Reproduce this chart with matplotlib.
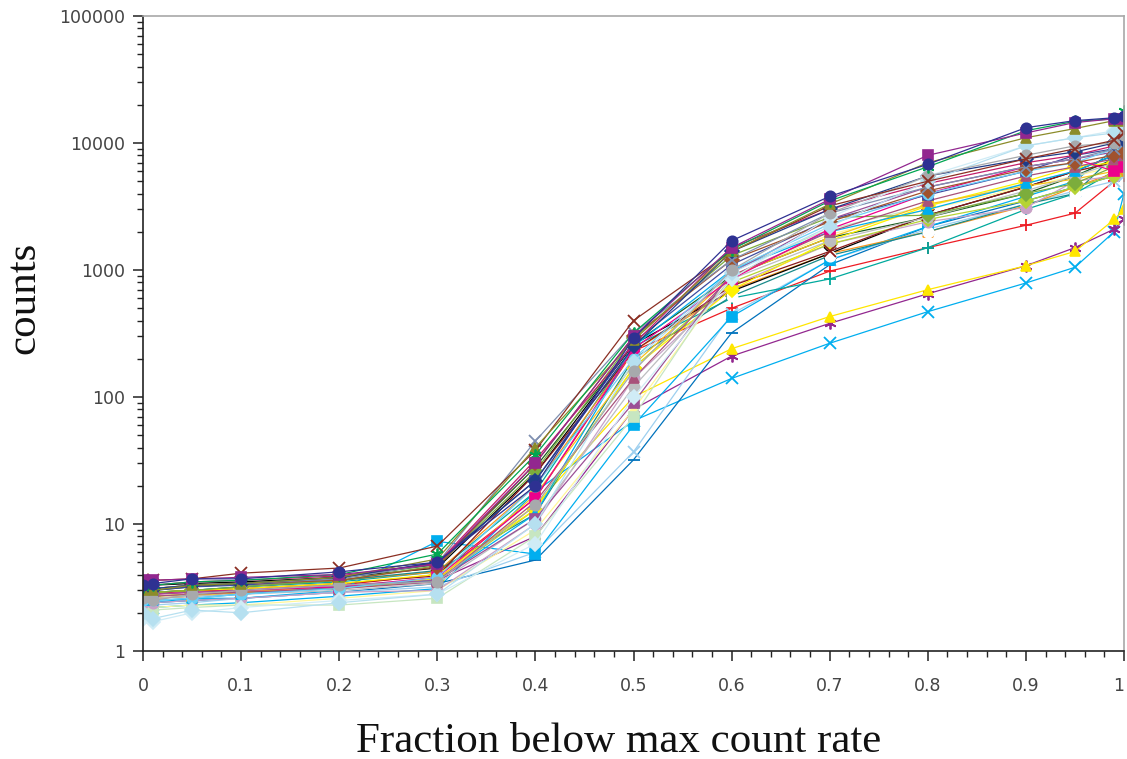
import matplotlib
matplotlib.use("Agg")
import matplotlib.pyplot as plt
from matplotlib.ticker import LogLocator, FixedLocator, NullFormatter

# ---------------- data ----------------
fraction = [0, 0.01, 0.05, 0.1, 0.2, 0.3, 0.4, 0.5, 0.6, 0.7, 0.8, 0.9, 0.95, 0.99, 1.0]

x_tick_labels = ["0", "0.1", "0.2", "0.3", "0.4", "0.5", "0.6", "0.7", "0.8", "0.9", "1"]
y_tick_labels = ["1", "10", "100", "1000", "10000", "100000"]

# lower-lying series (drawn first)
low_series = [
    [2.2, 2.2, 2.3, 2.4, 2.7, 3.1, 18, 65, 140, 265, 470, 790, 1050, 2000, 4000],
    [2.6, 2.6, 2.7, 2.9, 3.2, 3.6, 8, 80, 210, 380, 650, 1080, 1500, 2100, 2500],
    [2.7, 2.7, 2.8, 2.9, 3.2, 3.7, 14, 100, 240, 430, 700, 1080, 1400, 2500, 3000],
    [2.8, 2.8, 3.0, 3.0, 3.3, 4.0, 16, 230, 500, 980, 1500, 2250, 2800, 5000, 5500],
    [2.4, 2.4, 2.5, 2.6, 2.9, 3.4, 5.2, 32, 320, 1100, 2200, 3500, 4500, 5500, 6000],
    [2.3, 2.3, 2.4, 2.6, 2.9, 3.2, 6, 37, 450, 1200, 2100, 3300, 4200, 5000, 5500],
    [2.4, 2.4, 2.6, 2.6, 3.0, 7.3, 5.8, 60, 430, 1200, 2200, 3800, 5000, 9000, 11000],
    [2.9, 2.9, 3.0, 3.2, 3.5, 4.2, 18, 250, 600, 850, 1500, 3000, 4000, 6000, 7000],
    [2.2, 2.2, 2.3, 2.3, 2.6, 3.0, 9, 80, 900, 1900, 3000, 4500, 5500, 6500, 7500],
    [2.1, 2.1, 2.2, 2.3, 2.3, 2.6, 8, 70, 1000, 2100, 3200, 4800, 6000, 7000, 7500],
]

# middle series
mid_series = [
    [3.2, 3.1, 3.3, 3.3, 3.6, 4.2, 20, 230, 700, 1350, 2000, 3200, 4500, 5800, 6000],
    [3.2, 3.3, 3.4, 3.5, 3.8, 4.5, 25, 260, 680, 1350, 2700, 4500, 6000, 8000, 8500],
    [2.9, 2.9, 3.0, 3.2, 3.6, 4.3, 12, 200, 620, 1300, 2000, 3300, 4000, 8000, 8000],
    [2.4, 2.4, 2.5, 2.6, 2.9, 3.0, 10, 140, 750, 1600, 2400, 3100, 5000, 5500, 7000],
    [3.0, 3.0, 3.2, 3.4, 3.8, 4.8, 28, 260, 900, 1800, 2600, 4000, 5500, 7500, 8000],
    [2.7, 2.7, 2.8, 2.9, 3.1, 3.6, 13, 170, 800, 1600, 2500, 3500, 4500, 5500, 6500],
    [2.8, 2.9, 3.0, 3.1, 3.4, 3.9, 25, 230, 750, 1400, 2700, 4500, 6000, 7000, 8500],
    [2.9, 2.9, 3.0, 3.1, 3.4, 4.0, 13, 170, 700, 1700, 3200, 5000, 6500, 7000, 8000],
    [2.6, 2.6, 2.7, 2.9, 3.2, 3.6, 17, 180, 900, 1800, 3300, 4600, 5200, 6000, 7000],
    [2.6, 2.6, 2.7, 2.8, 3.0, 3.4, 11, 120, 850, 1700, 2600, 4200, 5500, 7000, 7500],
    [2.9, 2.9, 3.0, 3.2, 3.6, 4.7, 26, 290, 1300, 2600, 2700, 4000, 4800, 6500, 7000],
    [2.5, 2.5, 2.6, 2.8, 3.2, 3.6, 12, 250, 1000, 2000, 3000, 4800, 6000, 8000, 10000],
    [2.7, 2.7, 2.8, 2.9, 3.1, 3.5, 15, 140, 900, 2000, 3500, 5500, 6500, 7500, 8000],
    [2.8, 2.8, 2.9, 3.0, 3.2, 3.8, 16, 240, 850, 2100, 4000, 6500, 7500, 6000, 6500],
    [3.0, 3.0, 3.2, 3.3, 3.7, 5.0, 22, 270, 1100, 2500, 3900, 6000, 8000, 9000, 9500],
    [2.8, 2.8, 2.9, 3.0, 3.3, 3.6, 11, 90, 950, 2500, 4500, 6500, 7500, 8500, 9000],
    [2.5, 2.5, 2.6, 2.8, 3.1, 3.8, 20, 200, 1000, 2300, 4000, 6000, 7000, 9000, 9500],
]

# upper series (drawn last)
high_series = [
    [3.0, 3.1, 3.3, 3.4, 3.6, 4.6, 30, 300, 1200, 2400, 4200, 6200, 7000, 8000, 8300],
    [3.1, 3.1, 3.3, 3.4, 3.7, 4.9, 45, 320, 1200, 2800, 4500, 6500, 7500, 9000, 10000],
    [3.3, 3.3, 3.5, 3.6, 3.9, 4.9, 32, 260, 1500, 3000, 4800, 7000, 8000, 9500, 10000],
    [3.1, 3.1, 3.3, 3.4, 3.8, 5.0, 22, 250, 1400, 3000, 5500, 7500, 8500, 10000, 10500],
    [1.8, 1.7, 2.0, 2.2, 2.5, 2.8, 7, 100, 850, 2600, 5500, 9500, 11000, 12500, 13500],
    [2.0, 1.8, 2.1, 2.0, 2.4, 2.8, 10, 190, 950, 2200, 5000, 9500, 11000, 12000, 13000],
    [2.6, 2.5, 2.8, 3.0, 3.3, 3.5, 14, 160, 1000, 2800, 5500, 8000, 9500, 10000, 11500],
    [3.6, 3.6, 3.7, 4.1, 4.5, 6.7, 38, 400, 1400, 3200, 5000, 7500, 9000, 10500, 12000],
    [3.0, 3.0, 3.3, 3.4, 3.8, 5.3, 40, 280, 1400, 3300, 7000, 11000, 13000, 15000, 15000],
    [3.2, 3.3, 3.5, 3.6, 4.0, 5.8, 35, 320, 1450, 3500, 6500, 12500, 14800, 15500, 18000],
    [3.6, 3.6, 3.7, 3.8, 4.0, 4.8, 30, 300, 1500, 3600, 8000, 12000, 14500, 15500, 15500],
    [3.3, 3.4, 3.7, 3.7, 4.2, 5.0, 20, 290, 1700, 3800, 6800, 13200, 15000, 15800, 16200],
]

# ---------------- styles ----------------
ASTER = (6, 2, 0)
low_styles = [
    ("#00AEEF", "x"), ("#92278F", ASTER), ("#FFE600", "^"), ("#ED1C24", "+"),
    ("#0072BC", "_"), ("#9DCFEF", "x"), ("#00AEEF", "s"), ("#00A99D", "+"),
    ("#FFF799", "^"), ("#C7E6C1", "s"),
]
mid_styles = [
    ("#F7941D", "^"), ("#000000", "x"), ("#1A8A8A", "o"), ("#C8A2C8", "o"),
    ("#1B5E20", "_"), ("#B5D334", "D"), ("#8B1A1A", "x"), ("#FFF200", "D"),
    ("#F6C11B", "s"), ("#BCBEC0", "o"), ("#7CAD3C", "D"), ("#00AEEF", "^"),
    ("#A8527A", "^"), ("#EC008C", "s"), ("#3D4BA0", "s"), ("#9B4F96", "s"),
    ("#6DCFF6", "o"),
]
high_styles = [
    ("#A0522D", "D"), ("#7F8FB0", "x"), ("#C41E6A", "_"), ("#1F3C88", "D"),
    ("#D0ECF6", "D"), ("#B6E0F0", "D"), ("#A7A9AC", "o"), ("#8B2F23", "x"),
    ("#8C8C2A", "^"), ("#00A651", ASTER), ("#92278F", "s"), ("#2E3192", "o"),
]
white_marker_index = 2  # in mid group: white circle markers

fig = plt.figure(figsize=(11.27, 7.59), dpi=100)
ax = fig.add_axes([143 / 1127, 108 / 759, (1124 - 143) / 1127, (651 - 16) / 759])

def draw(group, styles, white_idx=None):
    for i, (vals, (col, mk)) in enumerate(zip(group, styles)):
        face = col
        edge = col
        if white_idx is not None and i == white_idx:
            face = "white"
            edge = "white"
        ms = 7.5
        mew = 1.2
        if mk in ("x", "+", ASTER, "_"):
            ms = 8.5
            mew = 1.3
        ax.plot(fraction, vals, color=col, lw=0.9, marker=mk, ms=ms,
                mfc=face, mec=edge, mew=mew)

draw(low_series, low_styles)
draw(mid_series, mid_styles, white_marker_index)
draw(high_series, high_styles)

ax.set_yscale("log")
ax.set_ylim(1, 100000)
ax.set_xlim(0, 1)

ax.yaxis.set_major_locator(FixedLocator([1, 10, 100, 1000, 10000, 100000]))
ax.set_yticklabels(y_tick_labels)
ax.yaxis.set_minor_locator(LogLocator(base=10, subs=range(2, 10)))
ax.yaxis.set_minor_formatter(NullFormatter())

ax.set_xticks([i / 10 for i in range(11)])
ax.set_xticklabels(x_tick_labels)
ax.set_xticks([i / 50 for i in range(51)], minor=True)
ax.get_xticklabels()[-1].set_horizontalalignment("right")

for s in ("top", "right"):
    ax.spines[s].set_color("#A8A8A8")
    ax.spines[s].set_linewidth(1.2)
for s in ("left", "bottom"):
    ax.spines[s].set_color("#222222")
    ax.spines[s].set_linewidth(1.2)

ax.tick_params(axis="both", which="major", direction="out", length=7, width=1.1,
               color="#222222", labelsize=12.5, labelcolor="#444444")
ax.tick_params(axis="both", which="minor", direction="out", length=4, width=1.0,
               color="#222222")
ax.tick_params(axis="x", which="major", pad=12)
ax.tick_params(axis="y", which="major", pad=6)

ax.set_xlabel("Fraction below max count rate", family="Liberation Serif",
              fontsize=31, color="#111111")
ax.set_ylabel("counts", family="Liberation Serif", fontsize=31, color="#111111")
ax.xaxis.set_label_coords(0.4847, -0.112)
ax.yaxis.set_label_coords(-0.102, 0.556)

fig.savefig("out.png", dpi=100)
